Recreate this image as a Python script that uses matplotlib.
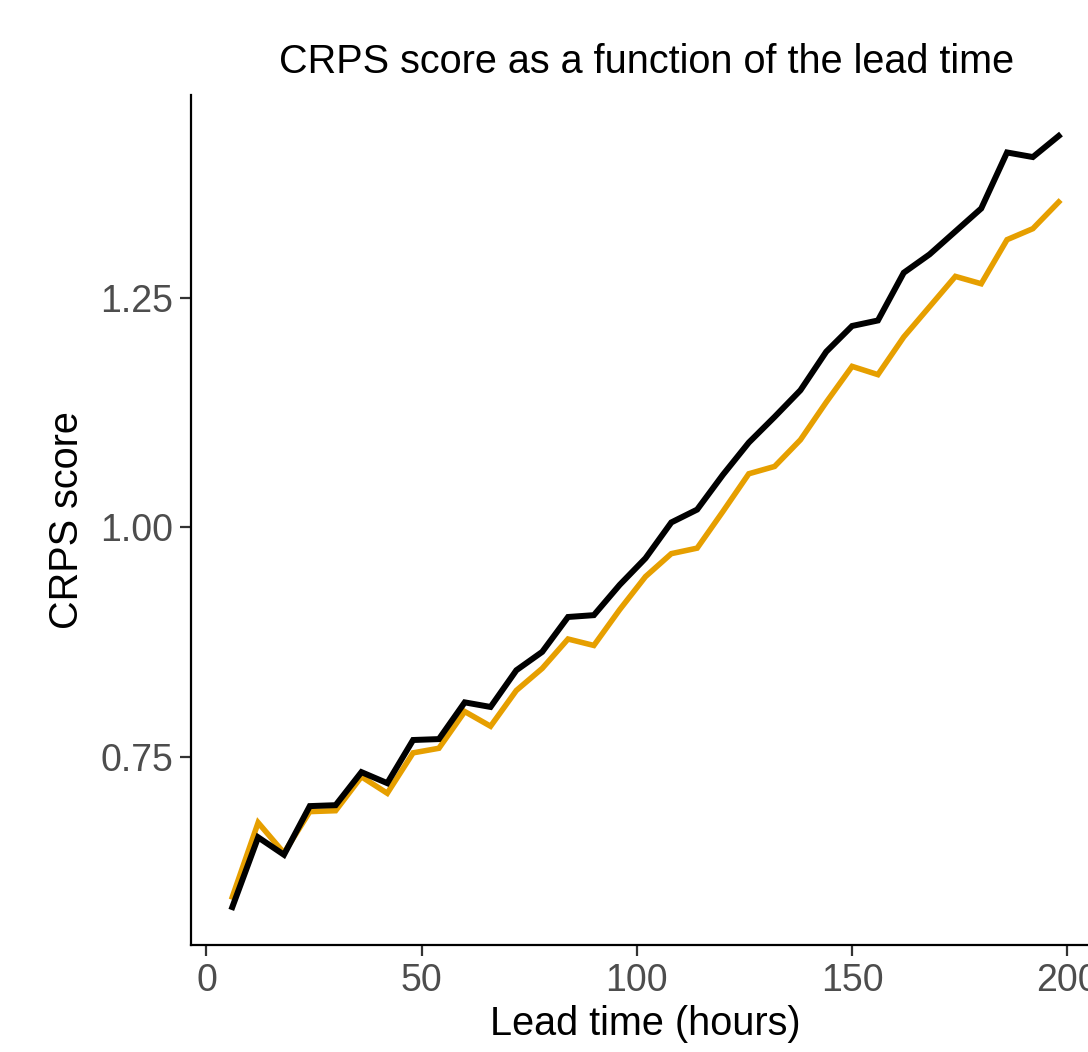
import matplotlib
matplotlib.use("Agg")
import matplotlib.pyplot as plt

plt.rcParams['font.family'] = ['Liberation Sans', 'DejaVu Sans']

# lead times (hours) and CRPS scores
lead_time = [6, 12, 18, 24, 30, 36, 42, 48, 54, 60, 66, 72, 78, 84, 90, 96, 102,
             108, 114, 120, 126, 132, 138, 144, 150, 156, 162, 168, 174, 180,
             186, 192, 198]
crps_black = [0.586, 0.662, 0.643, 0.696, 0.697, 0.733, 0.721, 0.768, 0.769, 0.809,
              0.804, 0.844, 0.864, 0.902, 0.904, 0.937, 0.966, 1.005, 1.019, 1.057,
              1.092, 1.120, 1.149, 1.191, 1.219, 1.225, 1.277, 1.297, 1.322, 1.347,
              1.408, 1.403, 1.426]
crps_orange = [0.597, 0.678, 0.645, 0.690, 0.691, 0.728, 0.710, 0.754, 0.759, 0.799,
               0.783, 0.822, 0.846, 0.878, 0.871, 0.910, 0.946, 0.971, 0.977, 1.017,
               1.058, 1.066, 1.095, 1.136, 1.175, 1.166, 1.207, 1.240, 1.273, 1.265,
               1.313, 1.325, 1.354]

x_ticks = [0, 50, 100, 150, 200]
y_ticks = [0.75, 1.00, 1.25]
y_tick_labels = ['0.75', '1.00', '1.25']

fig = plt.figure(figsize=(10.88, 10.52), dpi=100)
# panel runs past the right edge, like the cropped original
ax = fig.add_axes([191 / 1088, 107 / 1052, 909 / 1088, 850 / 1052])

ax.plot(lead_time, crps_orange, color='#E69F00', linewidth=4.0, solid_joinstyle='miter')
ax.plot(lead_time, crps_black, color='black', linewidth=4.3, solid_joinstyle='miter')

ax.set_xlim(-3.6, 207.6)
ax.set_ylim(0.5447, 1.4706)
ax.set_xticks(x_ticks)
ax.set_yticks(y_ticks)
ax.set_yticklabels(y_tick_labels)

for side in ['top', 'right']:
    ax.spines[side].set_visible(False)
for side in ['left', 'bottom']:
    ax.spines[side].set_linewidth(1.6)
    ax.spines[side].set_color('black')

ax.tick_params(axis='both', length=8, width=1.6, color='#333333',
               labelsize=27, labelcolor='#4D4D4D', pad=5)

ax.set_xlabel('Lead time (hours)', fontsize=28.5, labelpad=4)
ax.set_ylabel('CRPS score', fontsize=28.5, labelpad=10)
fig.text(647 / 1088, 1 - 73 / 1052, 'CRPS score as a function of the lead time',
         fontsize=28.5, ha='center', va='baseline')

fig.savefig('out.png', dpi=100)
